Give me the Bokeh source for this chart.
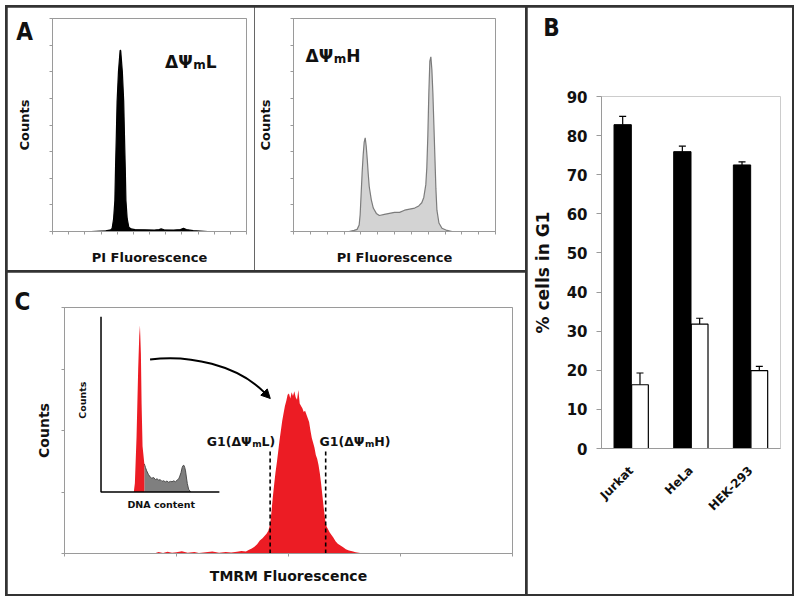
import numpy as np
from math import pi
from bokeh.plotting import figure
from bokeh.models import (Range1d, FactorRange, FixedTicker, Label, Whisker, TeeHead,
                          ColumnDataSource, Arrow, NormalHead, GridBox)
from bokeh.layouts import row, column
from bokeh.transform import dodge
from bokeh.embed import file_html
from bokeh.resources import INLINE
from bokeh.core.properties import value

# ---------------- data ----------------
# Panel A: PI fluorescence histograms (channel, counts in % of full scale)
a_low_x = [40, 55, 60, 61.5, 63, 64.3, 65, 65.8, 66.6, 68, 69.7, 70.3, 72, 73.4, 74.2, 75,
           75.7, 77, 78.7, 81, 85, 95, 105, 110, 112, 115, 125, 132, 135, 138, 145, 160]
a_low_y = [0, 0.3, 0.8, 1.5, 6, 14.5, 30, 45, 61, 75, 85, 85, 75, 61, 45, 30,
           14.5, 6, 2, 1.2, 0.9, 0.8, 0.7, 0.9, 1.2, 0.8, 0.7, 0.9, 1.5, 0.9, 0.4, 0]
a_high_x = [55, 60, 63, 65, 66, 67, 68, 69, 70, 71, 72, 73, 74, 75, 77, 79, 82, 85, 90, 95,
            100, 105, 110, 115, 120, 124, 127, 129, 131, 132, 133, 134, 135, 136, 137, 138,
            139, 140, 141, 142, 144, 147, 152, 157]
a_high_y = [0, 0.5, 1, 3, 8, 18, 28, 36, 42, 44, 40, 34, 27, 21, 15, 11, 8.5, 7.5, 8, 8.5,
            9, 9, 10, 10.5, 11, 12, 13.5, 16, 22, 30, 45, 65, 80, 82, 76, 65,
            50, 35, 20, 10, 4, 1.5, 0.5, 0]
a_tags = [("ΔΨ", "m", "L"), ("ΔΨ", "m", "H")]

# Panel B: % cells in G1 (black = ΔΨmL, white = ΔΨmH)
cell_lines = ["Jurkat", "HeLa", "HEK-293"]
g1_low = [82.8, 75.9, 72.5]
g1_low_err = [2.1, 1.4, 0.8]
g1_high = [16.3, 31.8, 19.9]
g1_high_err = [3.0, 1.5, 1.1]
b_ticks = [0, 10, 20, 30, 40, 50, 60, 70, 80, 90]

# Panel C: TMRM fluorescence histogram (channel, counts)
c_x = [200, 210, 220, 230, 240, 250, 262, 275, 290, 300, 315, 330, 345, 360, 372, 385,
       395, 405, 412, 418, 424, 430, 436, 442, 447, 451, 455, 459, 462, 465, 468, 471,
       474, 477, 480, 483, 486, 489, 492, 495, 498, 501, 504, 507, 510, 513, 516, 519,
       522, 525, 528, 531, 534, 537, 540, 543, 546, 549, 552, 555, 558, 561, 564, 567,
       570, 573, 576, 579, 582, 585, 588, 592, 596, 600, 605, 610, 616, 622, 628, 635,
       642, 650, 660, 670]
c_y = [0, 1.2, 0.4, 1.5, 0.6, 1.0, 1.8, 0.7, 1.3, 0.5, 1.1, 1.6, 0.6, 1.2, 0.8, 1.4,
       2.0, 1.6, 3.0, 4.0, 5.5, 7.5, 10.5, 12.5, 14.5, 16, 18.5, 24, 34, 46, 56, 66,
       74, 83, 92, 100, 108, 114, 120, 124, 129, 130, 126, 131, 128, 132, 127, 125,
       133, 122, 120, 118, 115, 116, 113, 110, 107, 100, 94, 90, 86, 80, 77, 72,
       65, 56, 46, 36, 27, 22, 20, 17, 15, 13, 10, 8, 6.5, 5, 3.5, 2.5,
       1.8, 1.0, 0.5, 0]
gates = [459, 583]
gate_top = 83
gate_labels = [("G1(ΔΨ", "m", "L)"), ("G1(ΔΨ", "m", "H)")]

# Inset (DNA content, normalised 0..1)
ins_red_x = [0.277, 0.286, 0.300, 0.314, 0.323, 0.329, 0.337, 0.343, 0.351, 0.366]
ins_red_y = [0.0, 0.05, 0.31, 0.70, 0.89, 0.95, 0.79, 0.50, 0.26, 0.16]
ins_gray_x = [0.366, 0.375, 0.386, 0.40, 0.415, 0.429, 0.445, 0.46, 0.475, 0.486, 0.50,
              0.515, 0.529, 0.543, 0.557, 0.571, 0.586, 0.60, 0.614, 0.629, 0.643, 0.657,
              0.666, 0.676, 0.686, 0.693, 0.70, 0.707, 0.714, 0.721, 0.729, 0.74, 0.757]
ins_gray_y = [0.16, 0.14, 0.12, 0.10, 0.085, 0.078, 0.082, 0.07, 0.075, 0.066, 0.07,
              0.06, 0.064, 0.057, 0.062, 0.055, 0.06, 0.058, 0.063, 0.058, 0.067, 0.075,
              0.09, 0.11, 0.14, 0.15, 0.152, 0.14, 0.12, 0.085, 0.048, 0.015, 0.0]

# panel letters
panel_letters = ["A", "B", "C"]

# ---------------- style ----------------
FONT = "DejaVu Sans"
LETTER_FONT = "DejaVu Sans Condensed"
AX_GRAY = "#9a9a9a"
RED = "#ec1c24"
INK = "#111111"
M_ADV = 1.042  # advance width of bold "m" in em


def style_axes(p, label_size="13px"):
    p.grid.visible = False
    for ax in p.axis:
        ax.axis_line_color = AX_GRAY
        ax.minor_tick_line_color = AX_GRAY
        ax.minor_tick_out = 3
        ax.minor_tick_in = 0
        ax.axis_label_text_font = FONT
        ax.axis_label_text_font_style = "bold"
        ax.axis_label_text_font_size = label_size
        ax.axis_label_text_color = INK


def sub_label(p, x, y, y_sub, parts, size, sub_size, **kw):
    """text with a subscript: pre (right-aligned at x), sub, post"""
    pre, sub, post = parts
    common = dict(text_font=FONT, text_font_style="bold", text_baseline="alphabetic",
                  text_color=INK, **kw)
    p.add_layout(Label(x=x, y=y, text=pre, text_align="right",
                       text_font_size=f"{size}px", **common))
    p.add_layout(Label(x=x, y=y_sub, text=sub, text_align="left", x_offset=0.5,
                       text_font_size=f"{sub_size}px", **common))
    p.add_layout(Label(x=x, y=y, text=post, text_align="left",
                       x_offset=M_ADV * sub_size + 0.5,
                       text_font_size=f"{size}px", **common))


def hist_panel(width, ml, mr, xs, ys, fill, line):
    p = figure(width=width, height=263, x_range=Range1d(0, 200), y_range=Range1d(0, 100),
               min_border_left=ml, min_border_right=mr, min_border_top=11,
               min_border_bottom=39, toolbar_location=None, output_backend="svg")
    p.outline_line_color = AX_GRAY
    p.xaxis.ticker = FixedTicker(ticks=[], minor_ticks=list(np.arange(0, 201, 50 / 3)))
    p.yaxis.ticker = FixedTicker(ticks=[], minor_ticks=list(np.arange(0, 101, 12.5)))
    p.xaxis.axis_label = "PI Fluorescence"
    p.yaxis.axis_label = "Counts"
    style_axes(p)
    p.yaxis.axis_label_standoff = 18
    p.xaxis.axis_label_standoff = 15
    p.varea(x=xs, y1=0, y2=ys, fill_color=fill)
    p.line(x=xs, y=ys, line_color=line, line_width=1.2)
    return p


pA1 = hist_panel(247, 45, 8, a_low_x, a_low_y, "black", "black")
sub_label(pA1, 144.5, 79.6, 78.0, a_tags[0], 17, 12)
pA2 = hist_panel(271, 38, 30, a_high_x, a_high_y, "#d3d3d3", "#7c7c7c")
sub_label(pA2, 39.3, 82.6, 81.0, a_tags[1], 17, 12)

# ---------------- Panel B ----------------
src = ColumnDataSource(dict(
    cat=cell_lines, low=g1_low, high=g1_high,
    low_up=[v + e for v, e in zip(g1_low, g1_low_err)],
    high_up=[v + e for v, e in zip(g1_high, g1_high_err)]))

pB = figure(width=265, height=587, x_range=FactorRange(factors=cell_lines, range_padding=0),
            y_range=Range1d(0, 90), min_border_left=74, min_border_right=12,
            min_border_top=89, min_border_bottom=146, toolbar_location=None,
            output_backend="svg")
pB.grid.visible = False
pB.outline_line_color = None
OFF = 0.145
pB.vbar(x=dodge("cat", -OFF, range=pB.x_range), top="low", width=0.29, source=src,
        fill_color="black", line_color="black")
pB.vbar(x=dodge("cat", OFF, range=pB.x_range), top="high", width=0.28, source=src,
        fill_color="white", line_color="black", line_width=1.2)
for off, lo, up in [(-OFF, "low", "low_up"), (OFF, "high", "high_up")]:
    pB.add_layout(Whisker(source=src, base=dodge("cat", off, range=pB.x_range), lower=lo,
                          upper=up, dimension="height", line_color="black", line_width=1.2,
                          upper_head=TeeHead(size=7, line_color="black", line_width=1.2),
                          lower_head=None))
pB.yaxis.ticker = FixedTicker(ticks=b_ticks)
pB.yaxis.minor_tick_line_color = None
for ax in pB.axis:
    ax.axis_line_color = AX_GRAY
    ax.major_tick_line_color = AX_GRAY
    ax.major_label_text_font = FONT
    ax.major_label_text_font_style = "bold"
    ax.major_label_text_color = INK
pB.yaxis.major_tick_out = 5
pB.yaxis.major_tick_in = 0
pB.yaxis.major_label_text_font_size = "15px"
pB.yaxis.major_label_standoff = 9
pB.yaxis.axis_label = "% cells in G1"
pB.yaxis.axis_label_text_font = FONT
pB.yaxis.axis_label_text_font_style = "bold"
pB.yaxis.axis_label_text_font_size = "17px"
pB.yaxis.axis_label_text_color = INK
pB.yaxis.axis_label_standoff = 11
pB.xaxis.major_tick_line_color = None
pB.xaxis.major_label_orientation = pi / 4
pB.xaxis.major_label_text_font_size = "12px"
pB.xaxis.major_label_standoff = 14

# ---------------- Panel C ----------------
pC = figure(width=518, height=322, x_range=Range1d(0, 1000), y_range=Range1d(0, 200),
            min_border_left=57, min_border_right=13, min_border_top=35,
            min_border_bottom=41, toolbar_location=None, output_backend="svg")
pC.outline_line_color = AX_GRAY
pC.xaxis.ticker = FixedTicker(ticks=[], minor_ticks=[0, 250, 500, 750, 1000])
pC.yaxis.ticker = FixedTicker(ticks=[], minor_ticks=[0, 50, 100, 150, 200])
pC.xaxis.axis_label = "TMRM Fluorescence"
pC.yaxis.axis_label = "Counts"
style_axes(pC, "14px")
pC.yaxis.axis_label_standoff = 10
pC.xaxis.axis_label_standoff = 11

pC.varea(x=c_x, y1=0, y2=c_y, fill_color=RED)
pC.segment(x0=gates, y0=[0, 0], x1=gates, y1=[gate_top, gate_top], line_color="black",
           line_width=1.6, line_dash="4 3")
for gx, parts in zip([417.9, 669.6], gate_labels):
    sub_label(pC, gx, 90.9, 88.9, parts, 12.5, 9)

# inset placed in its own normalised coordinate system
IN_L, IN_R, IN_B, IN_T = 81.5, 345.7, 50.1, 192.4
pC.extra_x_ranges = {"ins": Range1d((0 - IN_L) / (IN_R - IN_L), (1000 - IN_L) / (IN_R - IN_L))}
pC.extra_y_ranges = {"ins": Range1d((0 - IN_B) / (IN_T - IN_B), (200 - IN_B) / (IN_T - IN_B))}
ins = dict(x_range_name="ins", y_range_name="ins")
pC.varea(x=ins_gray_x, y1=0, y2=ins_gray_y, fill_color="#7f7f7f", **ins)
pC.line(x=ins_gray_x, y=ins_gray_y, line_color="#4d4d4d", line_width=1, **ins)
pC.varea(x=ins_red_x, y1=0, y2=ins_red_y, fill_color=RED, **ins)
pC.line(x=[0, 0, 1], y=[1, 0, 0], line_color="black", line_width=1.5, **ins)
pC.add_layout(Label(x=-0.157, y=0.524, text="Counts", angle=pi / 2, text_font=FONT,
                    text_font_style="bold", text_font_size="9.5px", text_align="center",
                    text_baseline="middle", text_color=INK, **ins))
pC.add_layout(Label(x=0.509, y=-0.072, text="DNA content", text_font=FONT,
                    text_font_style="bold", text_font_size="9.5px", text_align="center",
                    text_baseline="middle", text_color=INK, **ins))

# curved arrow from inset G1 peak to the TMRM histogram
pC.bezier(x0=[191], y0=[157.7], x1=[446], y1=[131], cx0=[278], cy0=[162], cx1=[386],
          cy1=[153], line_color="black", line_width=2)
pC.add_layout(Arrow(end=NormalHead(size=9, fill_color="black", line_color="black"),
                    x_start=446, y_start=131, x_end=459.4, y_end=126, line_width=2,
                    line_color="black"))

# ---------------- layout ----------------
W, H = 789, 591
top = row(pA1, pA2, spacing=0)
left = column(top, pC, spacing=2)
panels = row(left, pB, spacing=2, width=W, height=H,
             styles={"background-color": "#333333", "padding": "2px"})

# transparent full-size overlay carrying the panel letters (pixel coordinates, y down)
ov = figure(width=W, height=H, x_range=Range1d(0, W), y_range=Range1d(H, 0), min_border=0,
            x_axis_location=None, y_axis_location=None, toolbar_location=None,
            output_backend="svg", background_fill_color=None, border_fill_color=None)
ov.outline_line_color = None
ov.grid.visible = False
ov.text(x=[19, 546, 17], y=[26, 22, 296], text=panel_letters, text_font=value(LETTER_FONT),
        text_font_style="bold", text_font_size="24px", text_align="center",
        text_baseline="middle", text_color=INK)

root = GridBox(children=[(panels, 0, 0), (ov, 0, 0)], margin=(5, 0, 0, 5))

open("out.html", "w").write(file_html(root, INLINE))
